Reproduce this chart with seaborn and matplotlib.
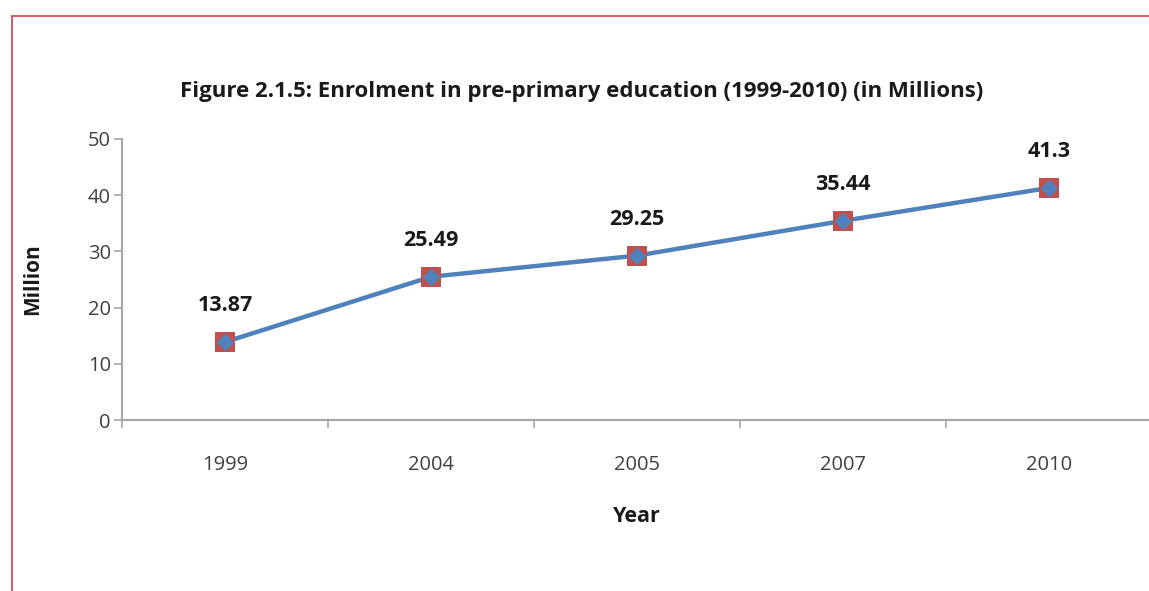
import pandas as pd
import matplotlib.pyplot as plt
import matplotlib.lines as mlines
import seaborn as sns

# Enrolment in pre-primary education (millions)
years = ["1999", "2004", "2005", "2007", "2010"]
enrolment = [13.87, 25.49, 29.25, 35.44, 41.3]
value_labels = ["13.87", "25.49", "29.25", "35.44", "41.3"]

df = pd.DataFrame({"Year": years, "Million": enrolment})
df["pos"] = range(len(years))

sns.set_style("white")
plt.rcParams["font.family"] = ["Open Sans", "DejaVu Sans"]

fig = plt.figure(figsize=(11.49, 5.91), dpi=100)
ax = fig.add_axes([122 / 1149, 171 / 591, 1030 / 1149, 281 / 591])

blue = "#4F81BD"
red = "#C0504D"
axis_grey = "#A6A6A6"
text_col = "#404040"
dark = "#1a1a1a"

sns.lineplot(data=df, x="pos", y="Million", ax=ax, color=blue, linewidth=3.2, zorder=2)
sns.scatterplot(data=df, x="pos", y="Million", ax=ax, marker="s", s=210,
                color=red, edgecolor=red, linewidth=0, zorder=3)
sns.scatterplot(data=df, x="pos", y="Million", ax=ax, marker="D", s=80,
                color=blue, edgecolor=blue, linewidth=0, zorder=4)

# value labels above each point
for xi, yi, lab in zip(df["pos"], df["Million"], value_labels):
    ax.annotate(lab, (xi, yi), xytext=(0, 26), textcoords="offset points",
                ha="center", va="center", fontsize=15.5, fontweight="bold", color=dark)

ax.set_xlim(-0.5, len(years) - 0.5)
ax.set_ylim(0, 50)
ax.set_yticks(range(0, 51, 10))

# Excel-style category axis: ticks between categories, labels centred
ax.set_xticks([i - 0.5 for i in range(len(years) + 1)])
ax.set_xticklabels([])
ax.set_xticks(list(range(len(years))), minor=True)
ax.set_xticklabels(years, minor=True)
ax.tick_params(axis="x", which="major", bottom=True, direction="out", length=6,
               width=1.2, color=axis_grey)
ax.tick_params(axis="x", which="minor", bottom=True, length=0, pad=25,
               labelsize=14.5, labelcolor=text_col)
ax.tick_params(axis="y", left=True, direction="out", length=6, width=1.2, color=axis_grey,
               pad=2, labelsize=14.5, labelcolor=text_col)

for side in ["top", "right"]:
    ax.spines[side].set_visible(False)
for side in ["left", "bottom"]:
    ax.spines[side].set_color(axis_grey)
    ax.spines[side].set_linewidth(1.5)

ax.set_xlabel("Year", fontsize=15.5, fontweight="bold", color=dark, va="center")
ax.xaxis.set_label_coords(0.5, (420 - 517) / 281)
ax.set_ylabel("Million", fontsize=15, fontweight="bold", color=dark, va="center")
ax.yaxis.set_label_coords((33 - 122) / 1030, 0.5)

fig.text(582 / 1149, 1 - 91 / 591,
         "Figure 2.1.5: Enrolment in pre-primary education (1999-2010) (in Millions)",
         ha="center", va="center", fontsize=16, fontweight="bold", color=dark)

# thin red frame on the top and left edges
fig.add_artist(mlines.Line2D([11.5 / 1149, 11.5 / 1149], [0, 1 - 15.5 / 591],
                             color="#D0434B", linewidth=1.2, transform=fig.transFigure))
fig.add_artist(mlines.Line2D([11.5 / 1149, 1], [1 - 15.5 / 591, 1 - 15.5 / 591],
                             color="#D0434B", linewidth=1.2, transform=fig.transFigure))

fig.savefig("out.png", dpi=100)
